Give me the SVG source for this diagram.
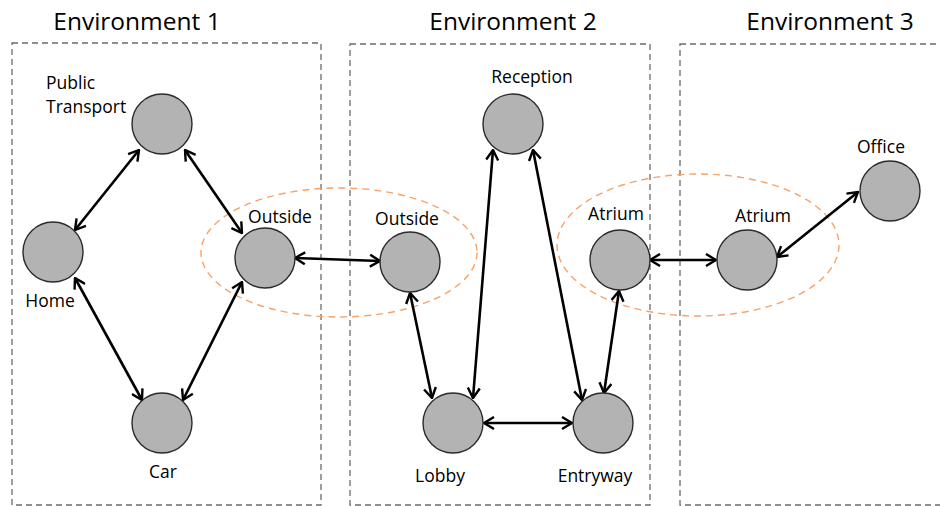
<svg xmlns="http://www.w3.org/2000/svg" width="940" height="506" viewBox="0 0 940 506">
<style>
.env{fill:none;stroke:#6b6b6b;stroke-width:1.3;stroke-dasharray:6 4}
.grp{fill:none;stroke:#f4a36a;stroke-width:1.4;stroke-dasharray:7 5}
.node{fill:#b3b3b3;stroke:#2b2b2b;stroke-width:1.4}
.title{font-family:"Open Sans","Liberation Sans",sans-serif;font-size:24.5px;fill:#000;text-anchor:middle}
.lbl{font-family:"Open Sans","Liberation Sans",sans-serif;font-size:17.5px;fill:#000;text-anchor:middle}
.edge{stroke:#000;stroke-width:2.6;fill:none;marker-start:url(#ah);marker-end:url(#ah)}
</style>
<defs>
<marker id="ah" viewBox="0 0 12 14" refX="11" refY="7" markerWidth="12" markerHeight="14" markerUnits="userSpaceOnUse" orient="auto-start-reverse">
<path d="M1,1 L11,7 L1,13" fill="none" stroke="#000" stroke-width="2.4" stroke-linejoin="miter"/>
</marker>
</defs>
<rect width="940" height="506" fill="#fff"/>
<g id="env1"><rect class="env" x="12" y="43" width="309" height="462"/><text class="title" x="137" y="30">Environment 1</text></g>
<g id="env2"><rect class="env" x="350" y="44" width="300" height="461"/><text class="title" x="513" y="30">Environment 2</text></g>
<g id="env3"><rect class="env" x="680" y="44" width="270" height="461"/><text class="title" x="830" y="30">Environment 3</text></g>
<g id="groups">
<ellipse class="grp" cx="339" cy="252.5" rx="138" ry="64.5"/>
<ellipse class="grp" cx="698" cy="245" rx="141" ry="71"/>
</g>
<g id="connectors">
<line class="edge" x1="75" y1="230" x2="139" y2="150"/>
<line class="edge" x1="185" y1="150" x2="242" y2="233"/>
<line class="edge" x1="75" y1="278" x2="142" y2="400"/>
<line class="edge" x1="242" y1="282" x2="183" y2="400"/>
<line class="edge" x1="295" y1="258" x2="380" y2="261"/>
<line class="edge" x1="410" y1="293" x2="432" y2="398"/>
<line class="edge" x1="493" y1="150" x2="473" y2="398"/>
<line class="edge" x1="533" y1="150" x2="582" y2="400"/>
<line class="edge" x1="619" y1="291" x2="604" y2="393"/>
<line class="edge" x1="484" y1="423" x2="572" y2="423"/>
<line class="edge" x1="650" y1="260" x2="716" y2="260"/>
<line class="edge" x1="777" y1="257" x2="858" y2="192"/>
</g>
<g id="public-transport"><circle class="node" cx="162" cy="124" r="30"/><text class="lbl" x="46" y="89" style="text-anchor:start">Public</text><text class="lbl" x="46" y="113" style="text-anchor:start">Transport</text></g>
<g id="home"><circle class="node" cx="53" cy="252" r="30"/><text class="lbl" x="50" y="307">Home</text></g>
<g id="outside1"><circle class="node" cx="265" cy="258" r="30"/><text class="lbl" x="280" y="223">Outside</text></g>
<g id="car"><circle class="node" cx="162" cy="423" r="30"/><text class="lbl" x="163" y="478">Car</text></g>
<g id="outside2"><circle class="node" cx="410" cy="262" r="30"/><text class="lbl" x="407" y="225">Outside</text></g>
<g id="reception"><circle class="node" cx="513" cy="124" r="30"/><text class="lbl" x="532" y="83">Reception</text></g>
<g id="atrium2"><circle class="node" cx="620" cy="260" r="30"/><text class="lbl" x="616" y="220">Atrium</text></g>
<g id="lobby"><circle class="node" cx="453" cy="423" r="30"/><text class="lbl" x="440" y="482">Lobby</text></g>
<g id="entryway"><circle class="node" cx="603" cy="423" r="30"/><text class="lbl" x="595" y="482">Entryway</text></g>
<g id="atrium3"><circle class="node" cx="747" cy="260" r="30"/><text class="lbl" x="763" y="222">Atrium</text></g>
<g id="office"><circle class="node" cx="890" cy="191" r="30"/><text class="lbl" x="881" y="153">Office</text></g>
</svg>
